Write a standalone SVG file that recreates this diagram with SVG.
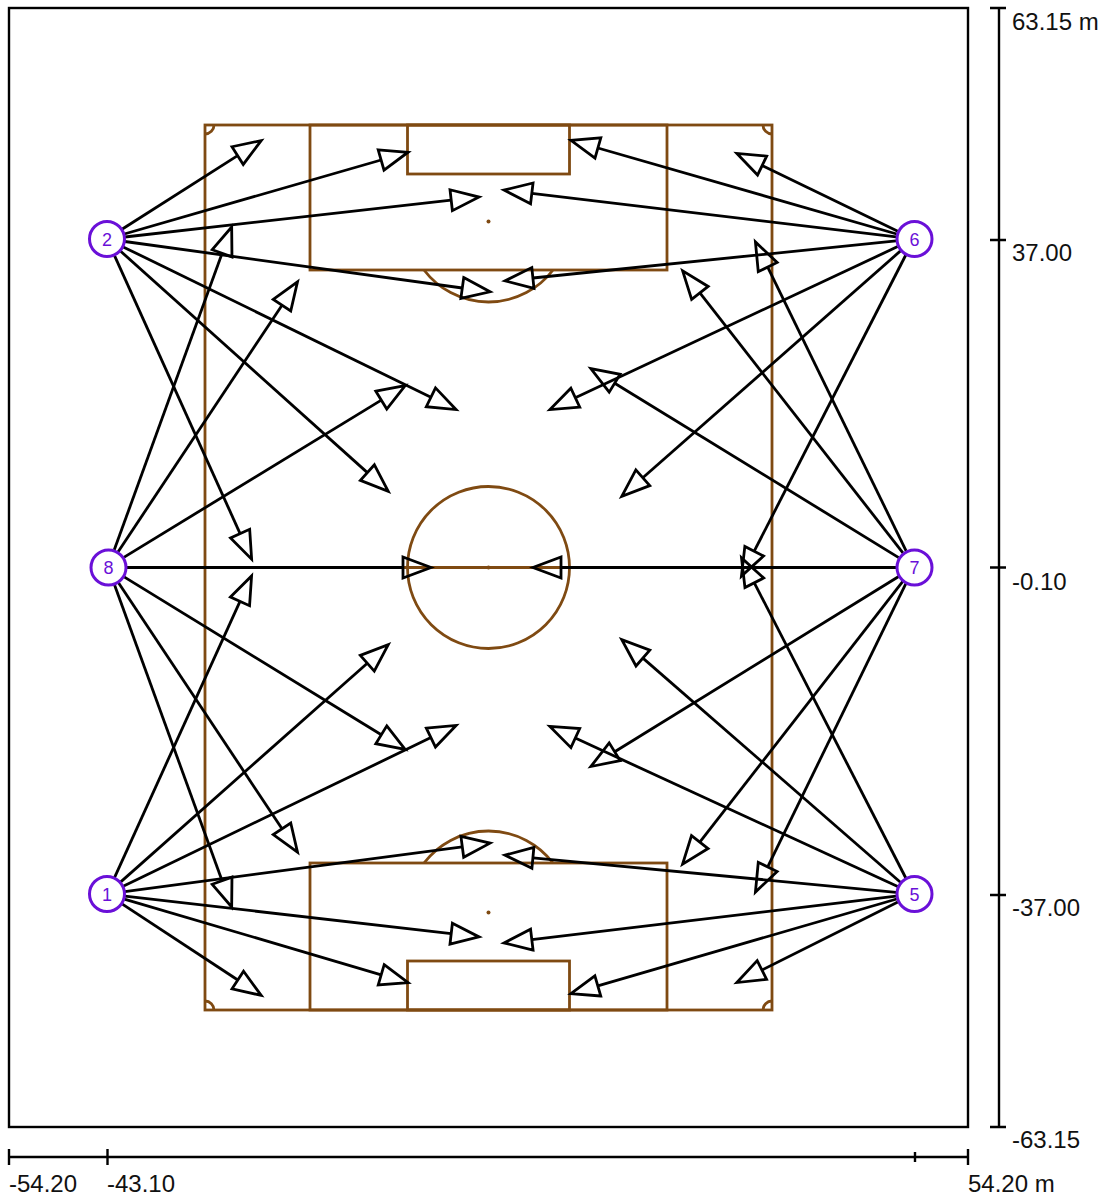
<svg xmlns="http://www.w3.org/2000/svg" width="1102" height="1196" viewBox="0 0 1102 1196">
<style>
.bg{fill:#fff}
.fr{fill:none;stroke:#000;stroke-width:2.4}
.f{fill:none;stroke:#7f4a12;stroke-width:2.8}
.s{fill:#7f4a12}
.c{stroke:#000;stroke-width:2.8;fill:none;marker-end:url(#h)}
.n{fill:#fff;stroke:#6a10d8;stroke-width:3}
.nt{font:18px "Liberation Sans",Arial,sans-serif;fill:#6a10d8;text-anchor:middle}
.t{font:24px "Liberation Sans",Arial,sans-serif;fill:#111}
</style>
<defs>
<marker id="h" markerUnits="userSpaceOnUse" markerWidth="36" markerHeight="30" refX="2" refY="15" orient="auto" viewBox="0 0 36 30" overflow="visible">
<path d="M2 4.500 L30 15 L2 25.500 Z" fill="none" stroke="#000" stroke-width="2.800" stroke-linejoin="miter"/>
</marker>
</defs>
<rect class="bg" width="1102" height="1196"/>
<g id="frame">
<rect class="fr" x="9" y="8" width="959" height="1119"/>
<path class="fr" d="M999 8V1127M990 8H1006M990 240H1006M990 567.5H1006M990 895H1006M990 1127H1006"/>
<path class="fr" d="M9 1157H968M9 1149V1165M107.500 1149V1165M915 1152V1162M968 1149V1165"/>
<text class="t" x="1012" y="30">63.15 m</text>
<text class="t" x="1012" y="261">37.00</text>
<text class="t" x="1012" y="590">-0.10</text>
<text class="t" x="1012" y="916">-37.00</text>
<text class="t" x="1012" y="1148">-63.15</text>
<text class="t" x="9" y="1192">-54.20</text>
<text class="t" x="107" y="1192">-43.10</text>
<text class="t" x="968" y="1192">54.20 m</text>
</g>
<g id="field">
<rect class="f" x="205" y="125" width="567" height="885"/>
<path class="f" d="M205 567.500H772"/>
<rect class="f" x="310" y="125" width="357" height="145"/>
<rect class="f" x="407.500" y="125" width="162" height="49"/>
<rect class="f" x="310" y="863" width="357" height="147"/>
<rect class="f" x="407.500" y="961" width="162" height="49"/>
<circle class="f" cx="488.500" cy="567.500" r="81"/>
<path class="f" d="M424 270A81 81 0 0 0 553 270M424 863A81 81 0 0 1 553 863"/>
<path class="f" d="M205 134A9 9 0 0 0 214 125M763 125A9 9 0 0 0 772 134M205 1001A9 9 0 0 1 214 1010M763 1010A9 9 0 0 1 772 1001"/>
<circle class="s" cx="488.500" cy="221.500" r="2"/>
<circle class="s" cx="488.500" cy="567.500" r="2"/>
<circle class="s" cx="488.500" cy="912.500" r="2"/>
</g>
<g id="connectors">
<path class="c" d="M122 229.300L237.600 155.600"/>
<path class="c" d="M124.300 234L381.100 160"/>
<path class="c" d="M124.900 237L451.200 200.200"/>
<path class="c" d="M124.800 241.500L462.300 288"/>
<path class="c" d="M123.200 246.900L430.900 397.300"/>
<path class="c" d="M120.400 251L367.400 472.600"/>
<path class="c" d="M114.400 255.400L240.100 533.600"/>
<path class="c" d="M114.200 550.100L222.100 253.300"/>
<path class="c" d="M118 552L282 305.200"/>
<path class="c" d="M123.400 557.600L381.300 400.100"/>
<path class="c" d="M126 567.500L403 567.500"/>
<path class="c" d="M123.300 576.400L381.300 734.800"/>
<path class="c" d="M118 582L282 828.800"/>
<path class="c" d="M114.200 583.900L222.100 880.700"/>
<path class="c" d="M122 903.900L237.800 980"/>
<path class="c" d="M124.300 899.100L381.200 974.800"/>
<path class="c" d="M124.900 896.100L451.200 933.700"/>
<path class="c" d="M124.800 891.600L462.300 846.800"/>
<path class="c" d="M123.200 886.200L430.900 737.600"/>
<path class="c" d="M120.500 882.100L367.300 663.200"/>
<path class="c" d="M114.500 877.600L240 601.400"/>
<path class="c" d="M897.800 231.200L762.100 165.600"/>
<path class="c" d="M896.700 234L597.900 148"/>
<path class="c" d="M896.100 236.900L531.800 193.400"/>
<path class="c" d="M896.100 240.800L532.900 278"/>
<path class="c" d="M897.700 246.600L575.300 397.700"/>
<path class="c" d="M900.500 250.900L642.800 477.800"/>
<path class="c" d="M905.800 255L754.200 551.200"/>
<path class="c" d="M898.700 557.600L614.700 383.200"/>
<path class="c" d="M902.900 552.800L699.900 292.900"/>
<path class="c" d="M906.100 550.800L767.700 267.100"/>
<path class="c" d="M896 567.500L561 567.500"/>
<path class="c" d="M898.700 576.500L614.700 751.800"/>
<path class="c" d="M903 581.200L699.800 842.100"/>
<path class="c" d="M906.100 583.200L767.700 866.900"/>
<path class="c" d="M897.900 902L761.900 970"/>
<path class="c" d="M896.700 899L597.800 985.900"/>
<path class="c" d="M896.100 896.100L531.800 939.600"/>
<path class="c" d="M896.100 892.300L532.900 857.800"/>
<path class="c" d="M897.700 886.500L575.300 738.100"/>
<path class="c" d="M900.400 882.200L642.900 658.100"/>
<path class="c" d="M905.800 878L754.300 582.800"/>
</g>
<g id="node-1"><circle class="n" cx="107" cy="894" r="17.500"/><text class="nt" x="107" y="900.500">1</text></g>
<g id="node-2"><circle class="n" cx="107" cy="239" r="17.500"/><text class="nt" x="107" y="245.500">2</text></g>
<g id="node-5"><circle class="n" cx="914.500" cy="894" r="17.500"/><text class="nt" x="914.500" y="900.500">5</text></g>
<g id="node-6"><circle class="n" cx="914.500" cy="239" r="17.500"/><text class="nt" x="914.500" y="245.500">6</text></g>
<g id="node-7"><circle class="n" cx="914.500" cy="567.500" r="17.500"/><text class="nt" x="914.500" y="574">7</text></g>
<g id="node-8"><circle class="n" cx="108.500" cy="567.500" r="17.500"/><text class="nt" x="108.500" y="574">8</text></g>
</svg>
